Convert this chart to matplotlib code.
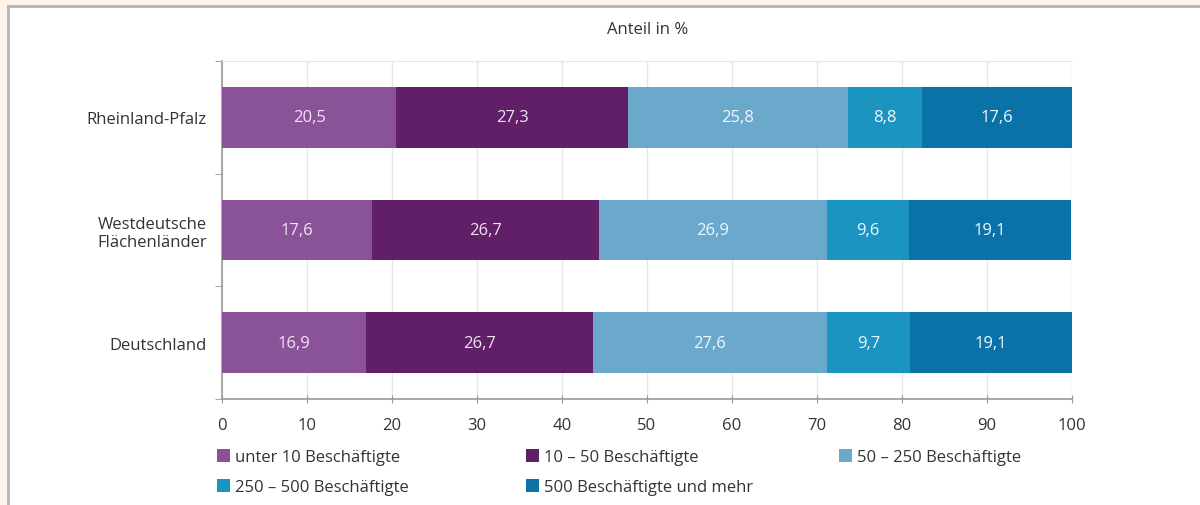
import matplotlib
matplotlib.use("Agg")
import matplotlib.pyplot as plt
from matplotlib.patches import Patch, Rectangle
from matplotlib.lines import Line2D
import numpy as np

plt.rcParams['font.family'] = ['Open Sans', 'DejaVu Sans']

regions = ["Rheinland-Pfalz", "Westdeutsche\nFlächenländer", "Deutschland"]
groups = ["unter 10 Beschäftigte", "10 – 50 Beschäftigte", "50 – 250 Beschäftigte",
          "250 – 500 Beschäftigte", "500 Beschäftigte und mehr"]
s_unter10 = [20.5, 17.6, 16.9]
s_10_50 = [27.3, 26.7, 26.7]
s_50_250 = [25.8, 26.9, 27.6]
s_250_500 = [8.8, 9.6, 9.7]
s_500plus = [17.6, 19.1, 19.1]
series = [s_unter10, s_10_50, s_50_250, s_250_500, s_500plus]
colors = ["#8a5297", "#611f68", "#6aa9cb", "#1c94c0", "#0a72a7"]
label_colors = ["#f0e4f4", "#f0e4f4", "#eef8ff", "#eef8ff", "#eef8ff"]
xticks = [0, 10, 20, 30, 40, 50, 60, 70, 80, 90, 100]
title = "Anteil in %"

FS = 12
W, H = 1200, 506
fig = plt.figure(figsize=(W / 100, H / 100), dpi=100)
fig.patch.set_facecolor("#fdf3ea")

# white panel with grey border (left and top)
fig.patches.append(Rectangle((9 / W, 0), 1 - 9 / W, 1 - 8 / H, transform=fig.transFigure,
                             facecolor="white", edgecolor="none", zorder=-5))
fig.add_artist(Line2D([8 / W, 8 / W], [0, 1 - 7 / H], transform=fig.transFigure,
                      color="#b4b4b4", lw=2, zorder=-4))
fig.add_artist(Line2D([8 / W, 1], [1 - 7 / H, 1 - 7 / H], transform=fig.transFigure,
                      color="#b4b4b4", lw=2, zorder=-4))

ax = fig.add_axes([222 / W, 1 - 400 / H, 850 / W, 338 / H])
ax.set_facecolor("none")

y = np.arange(len(regions))
left = np.zeros(len(regions))
for vals, col, lc in zip(series, colors, label_colors):
    vals = np.array(vals)
    ax.barh(y, vals, left=left, height=0.54, color=col, edgecolor="none", zorder=3)
    for yi, (l, v) in enumerate(zip(left, vals)):
        ax.text(l + v / 2, yi, f"{v:.1f}".replace(".", ","), ha="center", va="center",
                color=lc, fontsize=FS, zorder=4)
    left = left + vals

ax.set_xlim(0, 100)
ax.set_ylim(len(regions) - 0.5, -0.5)
ax.set_xticks(xticks)
ax.set_xticklabels([str(t) for t in xticks], fontsize=FS, color="#333333")
ax.set_yticks(y)
ax.set_yticklabels(regions, fontsize=FS, color="#333333")
ax.set_yticks(np.arange(-0.5, len(regions)), minor=True)
ax.tick_params(axis="y", which="major", length=0, pad=11)
ax.tick_params(axis="y", which="minor", length=5, color="#999999", direction="out")
ax.tick_params(axis="x", which="major", length=6, color="#999999", direction="inout", pad=10)
ax.grid(axis="x", color="#e6e6e6", lw=1, zorder=0)
for s in ["left", "bottom"]:
    ax.spines[s].set_color("#999999")
    ax.spines[s].set_linewidth(1.2)
ax.spines["top"].set_color("#e6e6e6")
ax.spines["right"].set_visible(False)

fig.text(648 / W, 1 - 30 / H, title, ha="center", va="center", fontsize=FS, color="#333333")

handles = [Patch(facecolor=c, edgecolor="none") for c in colors]
cols = [([0, 3], 217), ([1, 4], 526), ([2], 839)]
for idx, x0 in cols:
    leg = fig.legend([handles[i] for i in idx], [groups[i] for i in idx],
                     loc="upper left", bbox_to_anchor=(x0 / W, 1 - 450 / H),
                     frameon=False, fontsize=FS, handlelength=0.8, handleheight=0.8,
                     handletextpad=0.3, labelspacing=0.85, borderaxespad=0, borderpad=0)
    for t in leg.get_texts():
        t.set_color("#333333")

fig.savefig("out.png", dpi=100, facecolor=fig.get_facecolor())
